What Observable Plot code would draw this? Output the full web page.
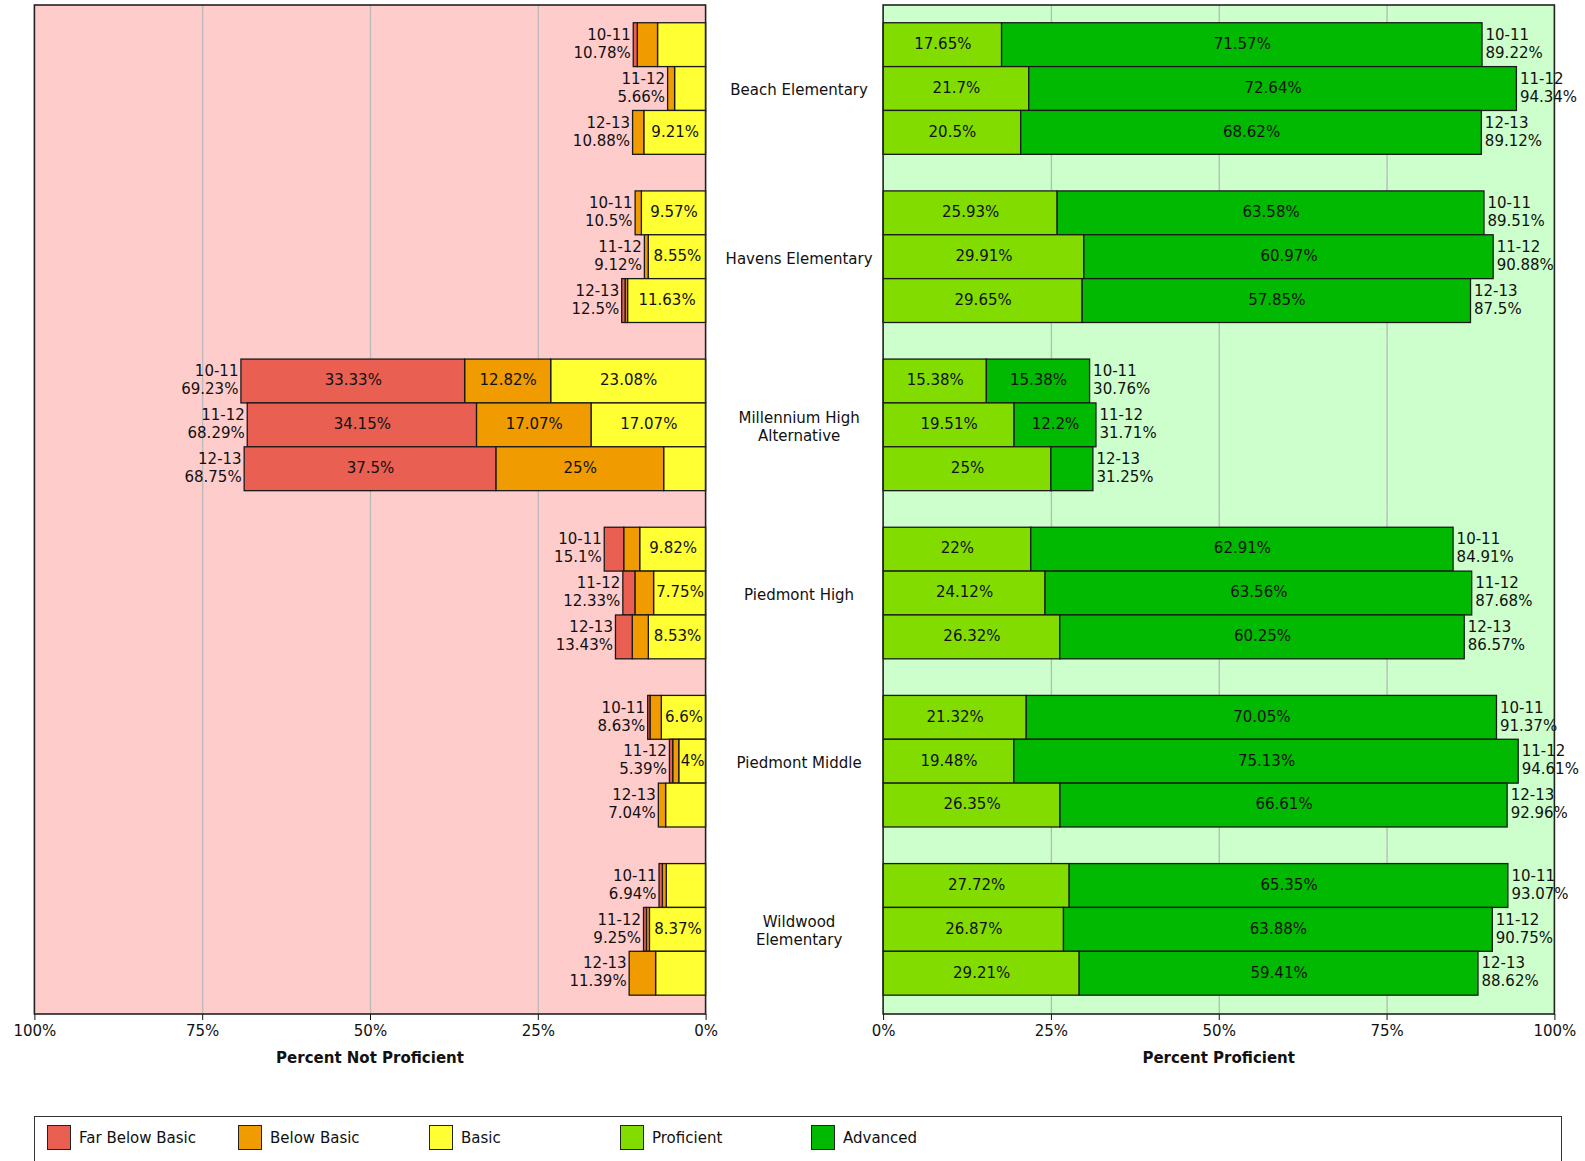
<!DOCTYPE html>
<html><head><meta charset="utf-8">
<script src="https://cdn.jsdelivr.net/npm/d3@7"></script>
<script src="https://cdn.jsdelivr.net/npm/@observablehq/plot@0.6"></script>
<style>
body{margin:0;background:#fff;font-family:"DejaVu Sans",sans-serif;}
#wrap{position:relative;width:1585px;height:1161px;overflow:hidden;}
#wrap svg{overflow:visible;}
.panel{position:absolute;top:0;}
.axt{position:absolute;top:1049px;font-weight:bold;font-size:15px;transform:translateX(-50%);white-space:nowrap;color:#111;}
#legend{position:absolute;left:34px;top:1116px;width:1528px;height:70px;border:1.5px solid #333;box-sizing:border-box;}
.item{position:absolute;top:8px;display:flex;align-items:center;font-size:15px;color:#111;}
.sw{width:24px;height:25px;border:1.5px solid #222;box-sizing:border-box;margin-right:8px;}
</style></head><body><div id="wrap"></div>
<script>
const schools = ["Beach Elementary", "Havens Elementary", "Millennium High\nAlternative", "Piedmont High", "Piedmont Middle", "Wildwood\nElementary"];
const years = ["10-11", "11-12", "12-13"];
const levels = ["Far Below Basic", "Below Basic", "Basic", "Proficient", "Advanced"];
const colors = ["#e95f52", "#f09b00", "#ffff33", "#82dc00", "#00b900"];

// one entry per school/year, in order: school 1 (10-11, 11-12, 12-13), school 2, ...
const farBelowBasic = [0.6, 0, 0, 0, 0, 0.5, 33.33, 34.15, 37.5, 2.9, 1.8, 2.5, 0.34, 0.49, 0, 0.5, 0.44, 0];
const belowBasic    = [3.02, 1.04, 1.67, 0.93, 0.57, 0.37, 12.82, 17.07, 25, 2.38, 2.78, 2.4, 1.69, 0.9, 1.08, 0.58, 0.44, 3.94];
const basic         = [7.16, 4.62, 9.21, 9.57, 8.55, 11.63, 23.08, 17.07, 6.25, 9.82, 7.75, 8.53, 6.6, 4, 5.96, 5.86, 8.37, 7.45];
const notProficientTotal = [10.78, 5.66, 10.88, 10.5, 9.12, 12.5, 69.23, 68.29, 68.75, 15.1, 12.33, 13.43, 8.63, 5.39, 7.04, 6.94, 9.25, 11.39];
const proficient    = [17.65, 21.7, 20.5, 25.93, 29.91, 29.65, 15.38, 19.51, 25, 22, 24.12, 26.32, 21.32, 19.48, 26.35, 27.72, 26.87, 29.21];
const advanced      = [71.57, 72.64, 68.62, 63.58, 60.97, 57.85, 15.38, 12.2, 6.25, 62.91, 63.56, 60.25, 70.05, 75.13, 66.61, 65.35, 63.88, 59.41];
const proficientTotal = [89.22, 94.34, 89.12, 89.51, 90.88, 87.5, 30.76, 31.71, 31.25, 84.91, 87.68, 86.57, 91.37, 94.61, 92.96, 93.07, 90.75, 88.62];

// which segment values are printed inside the bars (1 = shown)
const labelFarBelowBasic = [0,0,0, 0,0,0, 1,1,1, 0,0,0, 0,0,0, 0,0,0];
const labelBelowBasic    = [0,0,0, 0,0,0, 1,1,1, 0,0,0, 0,0,0, 0,0,0];
const labelBasic         = [0,0,1, 1,1,1, 1,1,0, 1,1,1, 1,1,0, 0,1,0];
const labelProficient    = [1,1,1, 1,1,1, 1,1,1, 1,1,1, 1,1,1, 1,1,1];
const labelAdvanced      = [1,1,1, 1,1,1, 1,1,0, 1,1,1, 1,1,1, 1,1,1];

const fmt = v => String(v) + "%";

function buildRows(series, totals) {
  const rows = [];
  schools.forEach((school, si) => {
    years.forEach((year, yi) => {
      const i = si * 3 + yi;
      series.forEach((s, k) => {
        rows.push({
          school, year, level: s.level, value: s.values[i],
          inLabel: s.labels[i] ? fmt(s.values[i]) : null,
          totLabel: k === series.length - 1 ? year + "\n" + fmt(totals[i]) : null,
          schoolLabel: (yi === 0 && k === 0) ? school : null
        });
      });
    });
  });
  return rows;
}

const leftRows = buildRows([
  {level: "Basic", values: basic, labels: labelBasic},
  {level: "Below Basic", values: belowBasic, labels: labelBelowBasic},
  {level: "Far Below Basic", values: farBelowBasic, labels: labelFarBelowBasic}
], notProficientTotal);

const rightRows = buildRows([
  {level: "Proficient", values: proficient, labels: labelProficient},
  {level: "Advanced", values: advanced, labels: labelAdvanced}
], proficientTotal);

const TOP = 5, BOTTOM = 1014, H = 1080;

function panel(rows, o) {
  const marks = [
    Plot.ruleX([25, 50, 75], {stroke: "#b9b9b9", strokeWidth: 1.3}),
    Plot.barX(rows, Plot.stackX({x: "value", y: "year", fill: "level", stroke: "#1a1a1a", strokeWidth: 1.3})),
    Plot.text(rows, Plot.stackX({x: "value", y: "year", text: "inLabel", fontSize: 15, fill: "#111", dy: -1})),
    Plot.text(rows, Plot.stackX2({x: "value", y: "year", text: "totLabel", fontSize: 15, fill: "#111",
      lineHeight: 1.2, lineAnchor: "middle", textAnchor: o.reverse ? "end" : "start", dx: o.reverse ? -3 : 3, dy: -2}))
  ];
  if (o.schoolLabels) {
    marks.push(Plot.text(rows, {x: 0, text: "schoolLabel", fontSize: 15, fill: "#111", lineHeight: 1.2,
      lineAnchor: "middle", textAnchor: "middle", dx: 93}));
  }
  const p = Plot.plot({
    width: o.width, height: H,
    marginTop: TOP, marginBottom: H - BOTTOM, marginLeft: o.ml, marginRight: o.mr,
    style: {fontFamily: "DejaVu Sans", fontSize: "15px", background: "transparent", color: "#111", overflow: "visible"},
    facet: {data: rows, y: "school"},
    fy: {domain: schools, padding: 0, round: false, axis: null, label: null},
    y: {domain: years, paddingInner: 0, paddingOuter: 0.417, align: 0.485, round: false, axis: null, label: null},
    x: {domain: [0, 100], reverse: o.reverse, ticks: [0, 25, 50, 75, 100], tickFormat: d => d + "%", tickSize: 6, tickPadding: 5, label: null},
    color: {domain: levels, range: colors},
    marks
  });
  const svg = p.tagName.toLowerCase() === "svg" ? p : p.querySelector("svg");
  const r = p.scale("x").range;
  const x0 = Math.min(r[0], r[1]), x1 = Math.max(r[0], r[1]);
  // panel background (under everything) and outer border
  d3.select(svg).insert("rect", ":first-child")
    .attr("x", x0).attr("y", TOP).attr("width", x1 - x0).attr("height", BOTTOM - TOP)
    .attr("fill", o.bg);
  d3.select(svg).append("rect")
    .attr("x", x0).attr("y", TOP).attr("width", x1 - x0).attr("height", BOTTOM - TOP)
    .attr("fill", "none").attr("stroke", "#222").attr("stroke-width", 1.6);
  const div = document.createElement("div");
  div.className = "panel";
  div.style.left = o.left + "px";
  div.appendChild(p);
  return div;
}

const wrap = document.getElementById("wrap");
wrap.appendChild(panel(leftRows, {left: 0, width: 860, ml: 34.4, mr: 154.4, reverse: true, bg: "#ffcccc", schoolLabels: true}));
wrap.appendChild(panel(rightRows, {left: 860, width: 725, ml: 23.1, mr: 30.6, reverse: false, bg: "#ccffcc", schoolLabels: false}));

[["Percent Not Proficient", 370], ["Percent Proficient", 1218.7]].forEach(([t, x]) => {
  const d = document.createElement("div");
  d.className = "axt"; d.style.left = x + "px"; d.textContent = t;
  wrap.appendChild(d);
});

const legend = document.createElement("div");
legend.id = "legend";
levels.forEach((lv, i) => {
  const it = document.createElement("div");
  it.className = "item";
  it.style.left = (12 + i * 191) + "px";
  const sw = document.createElement("div");
  sw.className = "sw"; sw.style.background = colors[i];
  const tx = document.createElement("span");
  tx.textContent = lv;
  it.appendChild(sw); it.appendChild(tx);
  legend.appendChild(it);
});
wrap.appendChild(legend);
</script></body></html>
